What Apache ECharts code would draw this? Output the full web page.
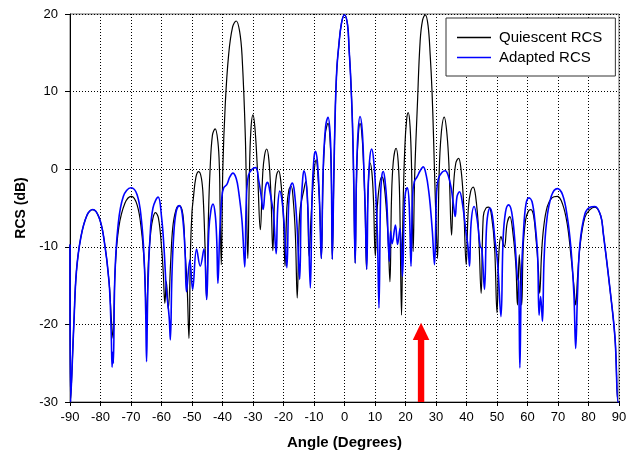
<!DOCTYPE html>
<html>
<head>
<meta charset="utf-8">
<script src="https://cdn.jsdelivr.net/npm/echarts@6/dist/echarts.min.js"></script>
<style>
  html, body { margin: 0; padding: 0; background: #fff; }
  #chart { width: 626px; height: 456px; }
</style>
</head>
<body>
<div id="chart"></div>
<script>
// [angle (deg), RCS (dB)]
const quiescent = [
  [-90, -9.7], [-89.8, -30], [-88.7, -19.6], [-87.9, -13.2], [-86.5, -8.9], [-84.5, -6], [-82.5, -5.2], [-80.5, -6.2], [-78.9, -8.9], [-77.2, -14.5], [-76.4, -19.6], [-75.9, -21.8],
  [-75.2, -13], [-74, -7.5], [-72, -4.4], [-69.9, -3.5], [-68, -4.6], [-66.6, -7.8], [-65.6, -12.5], [-64.9, -19.2],
  [-64.3, -12], [-63.5, -8], [-62.8, -6.3], [-62, -5.6], [-61, -6.3], [-60, -10], [-59.4, -13.5], [-58.9, -17.3], [-58.4, -14.5], [-57.8, -18],
  [-57, -12], [-56.3, -7.5], [-55.3, -5.3], [-54.2, -4.7], [-53, -5.8], [-52.3, -10.4], [-51.6, -15], [-51, -21.8],
  [-50.5, -10.4], [-50, -5.5], [-49.6, -3.9], [-48.7, -1], [-47.8, -0.3], [-46.9, -1.2], [-46.3, -3.9], [-45.7, -10.3], [-45.2, -16.8],
  [-44.6, -6], [-44.1, -0.3], [-43.3, 4.4], [-42.4, 5.2], [-41.5, 3.5], [-41, 0], [-40.8, -4.6], [-40.4, -12.3],
  [-39.9, 0], [-39.1, 8.3], [-38, 14.7], [-36.7, 18.3], [-35.5, 19.1], [-34.4, 17.8], [-33.6, 14.7], [-32.5, 4], [-31.7, -11.5],
  [-31.2, -1], [-30.7, 5], [-30, 7], [-29.3, 5], [-28.5, -0.5], [-27.6, -7.8],
  [-26.8, -0.5], [-26.2, 1.8], [-25.5, 2.6], [-24.8, 1.2], [-24.1, -3.5], [-23.5, -10.5],
  [-22.9, -3.5], [-22.3, -0.8], [-21.6, -0.2], [-20.9, -1.5], [-20.1, -5.5], [-19.5, -12.5],
  [-18.9, -5], [-18.2, -2.6], [-17.5, -2.2], [-16.8, -4], [-16.1, -8.5], [-15.5, -16.6],
  [-14.9, -7.5], [-14.5, -5], [-13.5, -3], [-12.7, -1.6], [-12.1, -4.5], [-11.6, -11.2],
  [-10.9, -5.7], [-10, -0.5], [-9.3, 1.2], [-8.6, -1.5], [-8, -6], [-7.6, -11.5],
  [-7, -1], [-6.3, 4.5], [-5.4, 5.9], [-4.7, 3.5], [-4.3, -1.5], [-4, -11.6],
  [-3.5, -1], [-3, 8], [-2.5, 13], [-1.9, 15.8], [-1, 18.8], [0, 19.9], [1, 18.6], [1.5, 15.5], [2, 12], [2.6, 6], [3, -1], [3.5, -12.1],
  [3.9, -2], [4.4, 3.5], [5.1, 5.9], [5.8, 4], [6.4, -1], [6.8, -5.5], [7.2, -12.9],
  [7.6, -4], [8, -0.5], [8.4, 0.8], [9, -0.5], [9.5, -4], [10.1, -11.2],
  [10.6, -6], [11.3, -2.5], [12.2, -1], [12.8, -1.5], [13.6, -4.5], [14.3, -9], [14.9, -14.5],
  [15.4, -4], [16, 1], [16.9, 2.7], [17.6, 1], [18.1, -4], [18.7, -18.8],
  [19.2, -5], [19.8, 3], [20.4, 6.5], [20.9, 7.3], [21.5, 5.5], [22, 0], [22.5, -10.6],
  [23, -1], [23.9, 8.3], [24.8, 16.5], [25.6, 19.2], [26.5, 19.9], [27.4, 18.5], [28.1, 14.7], [28.7, 10], [29.2, 4], [30, -6.7], [30.5, -11.5],
  [31, -1], [31.7, 4.5], [32.7, 6.7], [33.6, 4.5], [34.3, 0], [35.1, -8.5],
  [35.7, -2.5], [36.5, 0.8], [37.4, 1.4], [38.2, 0], [39, -4], [39.9, -12.3],
  [40.6, -5], [41.4, -2.8], [42.2, -2.3], [43, -3.5], [43.9, -7.5], [44.8, -16],
  [45.5, -6.1], [46.4, -5], [47.3, -4.9], [48.2, -6], [49.2, -10], [50, -18.5],
  [50.6, -11], [51.3, -8.7], [52.4, -10], [53.3, -7], [54.2, -6.1], [55.3, -8.5], [56.2, -12.5], [56.7, -17.5],
  [57.3, -11], [58.1, -17.5],
  [58.6, -10], [59.4, -6.5], [60.3, -5.4], [61.1, -5.2], [62, -6], [62.8, -9], [63.5, -12.5], [64, -16],
  [64.6, -11], [65.3, -7.5], [66.5, -4.8], [68, -3.7], [69.8, -3.5], [71.5, -4.5], [73, -7], [74.2, -11], [75.2, -15], [75.8, -17.5],
  [76.4, -14], [77.2, -10], [78.8, -6.2], [80.5, -5.2], [82.1, -4.9], [84, -6], [84.8, -8.1], [87, -15.3], [88.7, -21.8], [89.7, -30], [90, -30]
]

const adapted = [
  [-90, -9.7], [-89.8, -30], [-88.7, -19.6], [-87.9, -13.2], [-86.5, -8.9], [-84.5, -6], [-82.5, -5.2], [-80.5, -6.2], [-78.9, -8.9], [-77.2, -14.5], [-76.5, -21], [-76.2, -25.5], [-76, -23.6], [-75.8, -25],
  [-75.3, -14], [-74.3, -7.5], [-72.5, -3.5], [-70, -2.4], [-68, -3.3], [-66.6, -6.5], [-65.7, -11.5], [-65.2, -18], [-64.9, -24.8],
  [-64.5, -16], [-63.8, -9], [-62.8, -5], [-61.1, -3.6], [-60, -6.1], [-59.2, -10], [-58.4, -15.5], [-57.5, -19], [-57.1, -22],
  [-56.6, -14], [-56, -8.5], [-55.2, -5.5], [-54.2, -4.7], [-53.2, -5.8], [-52.3, -10.4], [-51.8, -15.8],
  [-50.7, -11.7], [-49.8, -15.5], [-48.5, -10.3], [-47.3, -12.5], [-46.1, -10.3], [-45.2, -16.8],
  [-44.5, -8], [-43.8, -5.3], [-43.1, -4.5], [-42.4, -5.8], [-41.9, -9], [-41.5, -14.7],
  [-40.9, -8.2], [-40.2, -3.6], [-39.6, -2.4], [-38.6, -2], [-37.6, -1], [-36.6, -0.5], [-35.5, -1.2], [-34.7, -2.9], [-33.6, -6.7], [-32.7, -12.6],
  [-32.2, -4], [-31.5, -0.8], [-30.3, 0], [-29.1, 0.2], [-28.1, -1.5], [-27.3, -3.5], [-26.7, -5.2],
  [-25.9, -2.3], [-25.2, -1.7], [-24.5, -2.8], [-23.7, -4.6], [-23.3, -5.5], [-22.4, -10.9],
  [-21.9, -5], [-21.2, -2.8], [-20.5, -4], [-19.7, -7.5], [-18.9, -12.7],
  [-18.3, -4.5], [-17.7, -2.2], [-17.1, -1.8], [-16.4, -3], [-15.6, -7], [-14.7, -14.2],
  [-14.2, -4.5], [-13.7, -1.2], [-13.3, -0.2], [-12.6, -1.5], [-12, -5], [-11.2, -15.3],
  [-10.6, -3], [-10, 1.5], [-9.5, 2.3], [-8.9, 1], [-8.3, -3], [-7.6, -11.5],
  [-7, 0], [-6.2, 5.5], [-5.4, 6.7], [-4.7, 4.5], [-4.3, -1], [-4, -11.6],
  [-3.5, -1], [-3, 8], [-2.5, 13], [-1.9, 15.8], [-1, 18.8], [0, 19.9], [1, 18.6], [1.5, 15.5], [2, 12], [2.6, 6], [3, -1], [3.5, -12.1],
  [3.9, -1.5], [4.4, 4.5], [5.1, 6.8], [5.8, 5], [6.4, -0.5], [6.8, -5.5], [7.3, -12.9],
  [7.7, -3.5], [8.2, 1], [8.9, 2.6], [9.6, 1], [10.3, -3.5], [10.8, -8.5], [11.3, -17.9],
  [11.8, -4], [12.2, -1], [12.7, -0.3], [13.3, -1.5], [13.9, -4.5], [14.7, -11.9],
  [15.1, -8], [15.6, -9.6], [16.7, -7.2], [17.4, -9.7], [18.2, -7.6], [19, -13.8],
  [19.6, -5], [20, -3], [20.6, -2.4], [21.2, -4.5], [21.8, -12.5],
  [22.3, -3.5], [22.9, -1.6], [23.8, -1], [24.8, -0.2], [25.8, 0.3], [26.8, -0.8], [27.6, -2.8], [28.1, -4.6], [28.8, -8], [29.5, -12.3],
  [30.2, -3], [30.8, -1.2], [32, -0.4], [33, -0.2], [34, -0.8], [35, -2.5], [35.7, -4.5], [36.3, -6.1],
  [36.9, -3.5], [37.7, -2.9], [38.7, -4.5], [39.8, -8], [40.5, -10], [41, -12.5],
  [41.5, -7], [42.5, -4.8], [43.5, -6.5], [44.5, -10], [45, -10.2], [45.9, -15.5],
  [46.5, -8], [47, -5.8], [47.7, -5], [48.5, -6], [49.3, -9], [50.2, -12.1], [51.3, -19],
  [52, -9], [52.8, -5.5], [53.8, -4.6], [54.8, -5.5], [55.8, -9], [56.7, -14], [57.1, -14.5], [57.5, -25.6],
  [58, -14], [58.7, -8], [59.5, -4.5], [60.5, -3.7], [61.5, -4.2], [62.5, -7], [63.3, -11], [63.8, -18.8], [64.3, -16.4], [64.9, -19.6],
  [65.4, -12], [66.2, -7], [67.8, -3.5], [69.8, -2.5], [71.5, -3.3], [73, -6], [74.2, -10], [75.2, -16], [75.8, -23.1],
  [76.4, -16], [77.2, -9.6], [78.8, -5.8], [80.5, -4.9], [82.1, -4.8], [84, -6], [84.8, -8.1], [87, -15.3], [88.7, -21.8], [89.7, -30], [90, -30]
]

// red arrow marking the jammer direction: [angle, base, neck, tip]
const arrow = [[25.1, -30, -22, -19.8]]

const font = "'Liberation Sans', Arial, sans-serif"

const myChart = echarts.init(document.getElementById('chart'))
const option = {
  backgroundColor: '#fff',
  animation: false,
  grid: {
    left: 70,
    right: 7,
    top: 14,
    bottom: 54,
    show: true,
    borderColor: '#666',
    borderWidth: 1,
    outerBoundsMode: 'none'
  },
  legend: {
    orient: 'vertical',
    left: 446,
    top: 18,
    data: ['Quiescent RCS', 'Adapted RCS'],
    icon: 'rect',
    itemWidth: 34,
    itemHeight: 1.5,
    itemGap: 5,
    padding: [12, 13, 11, 11],
    borderColor: '#333',
    borderWidth: 1,
    backgroundColor: '#fff',
    textStyle: { fontFamily: font, fontSize: 15, color: '#000', padding: [0, 0, 0, 3] }
  },
  xAxis: {
    type: 'value',
    min: -90,
    max: 90,
    interval: 10,
    name: 'Angle (Degrees)',
    nameLocation: 'middle',
    nameGap: 33,
    nameTextStyle: { fontFamily: font, fontSize: 15, fontWeight: 'bold', color: '#000' },
    axisLine: { onZero: false, lineStyle: { color: '#000', width: 1 } },
    axisTick: { length: 4, lineStyle: { color: '#000' } },
    axisLabel: { fontFamily: font, fontSize: 13, color: '#000', margin: 9, interval: 0 },
    splitLine: { show: true, lineStyle: { color: '#000', type: [1, 2], width: 1 } }
  },
  yAxis: {
    type: 'value',
    min: -30,
    max: 20,
    interval: 10,
    name: 'RCS (dB)',
    nameLocation: 'middle',
    nameGap: 42,
    nameTextStyle: { fontFamily: font, fontSize: 14, fontWeight: 'bold', color: '#000' },
    axisLine: { show: true, onZero: false, lineStyle: { color: '#000', width: 1 } },
    axisTick: { show: true, length: 5, lineStyle: { color: '#000' } },
    axisLabel: { fontFamily: font, fontSize: 13, color: '#000', margin: 12 },
    splitLine: { show: true, lineStyle: { color: '#000', type: [1, 2], width: 1 } }
  },
  series: [
    {
      name: 'Quiescent RCS',
      type: 'line',
      data: quiescent,
      symbol: 'none',
      smooth: 0.4,
      z: 3,
      lineStyle: { color: '#000', width: 1.2 },
      itemStyle: { color: '#000' }
    },
    {
      name: 'Adapted RCS',
      type: 'line',
      data: adapted,
      symbol: 'none',
      smooth: 0.4,
      z: 4,
      lineStyle: { color: '#0000ff', width: 1.6 },
      itemStyle: { color: '#0000ff' }
    },
    {
      type: 'custom',
      data: arrow,
      z: 5,
      renderItem: function (params, api) {
        const x = api.value(0)
        const base = api.coord([x, api.value(1)])
        const neck = api.coord([x, api.value(2)])
        const tip = api.coord([x, api.value(3)])
        return {
          type: 'group',
          children: [
            {
              type: 'rect',
              shape: { x: base[0] - 3.2, y: neck[1], width: 6.4, height: base[1] - neck[1] },
              style: { fill: '#ff0000' }
            },
            {
              type: 'polygon',
              shape: { points: [[tip[0] - 8.3, neck[1]], [tip[0] + 8.3, neck[1]], [tip[0], tip[1]]] },
              style: { fill: '#ff0000' }
            }
          ]
        }
      }
    }
  ]
}
myChart.setOption(option)
</script>
</body>
</html>
